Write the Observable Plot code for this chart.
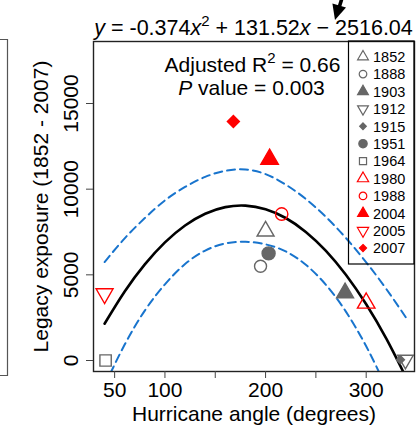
<!DOCTYPE html>
<html><head><meta charset="utf-8">
<script src="https://cdn.jsdelivr.net/npm/d3@7"></script>
<script src="https://cdn.jsdelivr.net/npm/@observablehq/plot@0.6"></script>
<style>
html,body{margin:0;padding:0;background:#fff;}
#wrap{position:relative;width:417px;height:438px;overflow:hidden;font-family:"Liberation Sans",Arial,sans-serif;}
#wrap svg{position:absolute;left:0;top:0;}
</style></head><body><div id="wrap"></div>
<script>
// ---- data ----
const years    = ["1852","1888","1903","1912","1915","1951","1964","1980","1988","2004","2005","2007"];
const angle    = [200, 195, 279, 339, 334, 203, 41, 300, 216, 204, 40, 168];
const exposure = [7550, 5500, 3950, 40, 50, 6250, 0, 3350, 8550, 11750, 3900, 13950];

// fitted curve y = -0.374x^2 + 131.52x - 2516.04 and its confidence band
const fitX   = [40, 60, 80, 100, 120, 140, 160, 180, 200, 220, 240, 260, 280, 300, 320, 340];
const fitY   = [2146, 4029, 5612, 6896, 7881, 8566, 8953, 9040, 8828, 8317, 7506, 6397, 4988, 3280, 1273, -1034];
const upperY = [5746, 7129, 8312, 9346, 10131, 10716, 11073, 11150, 10878, 10267, 9426, 8377, 7138, 5730, 4173, 2466];
const lowerY = [-1454, 929, 2912, 4446, 5631, 6416, 6833, 6930, 6778, 6367, 5586, 4417, 2838, 830, -1627, -4534];

const xTicks = [50, 100, 150, 200, 250, 300];
const xTickLabels = [50, 100, 200, 300];
const yTicks = [0, 5000, 10000, 15000];

const equationText = ["-0.374", "131.52", "2516.04"];
const r2Text = "0.66";
const pText = "0.003";

// ---- styles ----
const GRAY = "#666666", RED = "#ff0000", BLUE = "#1874cd";
const sty = {
  "1852": {symbol: "triangle", color: GRAY, fill: false, rot: 0,   r: 6.3, lr: 4.0},
  "1888": {symbol: "circle",   color: GRAY, fill: false, rot: 0,   r: 6.0, lr: 3.8},
  "1903": {symbol: "triangle", color: GRAY, fill: true,  rot: 0,   r: 6.3, lr: 4.0},
  "1912": {symbol: "triangle", color: GRAY, fill: false, rot: 180, r: 5.8, lr: 4.0},
  "1915": {symbol: "diamond2", color: GRAY, fill: true,  rot: 0,   r: 3.6, lr: 3.0},
  "1951": {symbol: "circle",   color: GRAY, fill: true,  rot: 0,   r: 6.5, lr: 4.2},
  "1964": {symbol: "square",   color: GRAY, fill: false, rot: 0,   r: 6.4, lr: 4.0},
  "1980": {symbol: "triangle", color: RED,  fill: false, rot: 0,   r: 6.5, lr: 4.2},
  "1988": {symbol: "circle",   color: RED,  fill: false, rot: 0,   r: 6.2, lr: 3.8},
  "2004": {symbol: "triangle", color: RED,  fill: true,  rot: 0,   r: 6.5, lr: 4.0},
  "2005": {symbol: "triangle", color: RED,  fill: false, rot: 180, r: 6.3, lr: 4.2},
  "2007": {symbol: "diamond2", color: RED,  fill: true,  rot: 0,   r: 5.4, lr: 3.2}
};

const pts = years.map((yr, i) => ({year: yr, angle: angle[i], exposure: exposure[i]}));
const fit = fitX.map((x, i) => ({x, fit: fitY[i], upper: upperY[i], lower: lowerY[i]}));

const W = 417, H = 438, ML = 93, MR = 3, MT = 41, MB = 67;
const FONT = "Liberation Sans, Arial, Helvetica, sans-serif";

const dotMarks = years.map(yr => {
  const s = sty[yr];
  return Plot.dot(pts.filter(d => d.year === yr), {
    x: "angle", y: "exposure", symbol: s.symbol, r: s.r, rotate: s.rot,
    stroke: s.color, fill: s.fill ? s.color : "none", strokeWidth: 1.4
  });
});

const chart = Plot.plot({
  width: W, height: H,
  marginLeft: ML, marginRight: MR, marginTop: MT, marginBottom: MB,
  style: {fontFamily: FONT, fontSize: "21px", color: "black", background: "white", overflow: "visible"},
  x: {domain: [29, 348]},
  y: {domain: [-642, 18619]},
  marks: [
    Plot.line(fit, {x: "x", y: "upper", curve: "natural", stroke: BLUE, strokeWidth: 2, strokeDasharray: "8,5", clip: true}),
    Plot.line(fit, {x: "x", y: "lower", curve: "natural", stroke: BLUE, strokeWidth: 2, strokeDasharray: "8,5", clip: true}),
    Plot.line(fit, {x: "x", y: "fit", curve: "natural", stroke: "black", strokeWidth: 2.6, clip: true}),
    ...dotMarks,
    Plot.frame({stroke: "#222", strokeWidth: 1.4}),
    Plot.axisX({ticks: xTicks, tickSize: 7, tickPadding: 4, stroke: "#444",
      tickFormat: d => xTickLabels.includes(d) ? String(d) : "",
      label: "Hurricane angle (degrees)", labelAnchor: "center", labelOffset: 49, labelArrow: "none", fontSize: 21}),
    Plot.axisY({ticks: yTicks, tickSize: 7, tickRotate: -90, tickPadding: 9, stroke: "#444",
      tickFormat: d => String(d),
      label: "Legacy exposure (1852 - 2007)", labelAnchor: "center", labelOffset: 60, labelArrow: "none", fontSize: 21})
  ]
});
document.getElementById("wrap").appendChild(chart);

// ---- annotation layer: equation, statistics, legend, arrow ----
const ov = d3.select("#wrap").append("svg")
  .attr("width", W).attr("height", H)
  .style("pointer-events", "none")
  .attr("font-family", FONT);

// neighbouring panel edge at far left
ov.append("path").attr("d", "M0,39.5H7.5V375.5H0").attr("fill", "none").attr("stroke", "#555").attr("stroke-width", 1.2);

const cx = ML + (W - ML - MR) / 2;
const eq = ov.append("text").attr("x", cx).attr("y", 35).attr("text-anchor", "middle").attr("font-size", 21.5);
eq.append("tspan").attr("font-style", "italic").text("y");
eq.append("tspan").text(" = " + equationText[0]);
eq.append("tspan").attr("font-style", "italic").text("x");
eq.append("tspan").attr("font-size", 15).attr("dy", -9).text("2");
eq.append("tspan").attr("dy", 9).text(" + " + equationText[1]);
eq.append("tspan").attr("font-style", "italic").text("x");
eq.append("tspan").text(" \u2212 " + equationText[2]);

const t1 = ov.append("text").attr("x", cx - 1).attr("y", 72).attr("text-anchor", "middle").attr("font-size", 21);
t1.append("tspan").text("Adjusted R");
t1.append("tspan").attr("font-size", 15).attr("dy", -9).text("2");
t1.append("tspan").attr("dy", 9).text(" = " + r2Text);

const t2 = ov.append("text").attr("x", cx - 2).attr("y", 95).attr("text-anchor", "middle").attr("font-size", 21);
t2.append("tspan").attr("font-style", "italic").text("P");
t2.append("tspan").text(" value = " + pText);

// arrow at the top
ov.append("line").attr("x1", 342).attr("y1", -2).attr("x2", 339.3).attr("y2", 7).attr("stroke", "black").attr("stroke-width", 3.6);
ov.append("path").attr("d", "M335,20L346,7.6L332.4,3.4Z").attr("fill", "black");

// legend
const LX = 348.5, LY = 41, LW = 65.5, LH = 223;
ov.append("rect").attr("x", LX).attr("y", LY).attr("width", LW).attr("height", LH)
  .attr("fill", "none").attr("stroke", "black").attr("stroke-width", 1.2);
const symMap = {triangle: d3.symbolTriangle, circle: d3.symbolCircle, square: d3.symbolSquare, diamond2: d3.symbolDiamond2 || d3.symbolSquare};
years.forEach((yr, i) => {
  const s = sty[yr];
  const yy = LY + 15.7 + i * 17.4;
  ov.append("path")
    .attr("d", d3.symbol(symMap[s.symbol], Math.PI * s.lr * s.lr)())
    .attr("transform", `translate(${LX + 14.5},${yy}) rotate(${s.rot + (s.symbol === "diamond2" && !d3.symbolDiamond2 ? 45 : 0)})`)
    .attr("fill", s.fill ? s.color : "none").attr("stroke", s.color).attr("stroke-width", 1.2);
  ov.append("text").attr("x", LX + 24.5).attr("y", yy + 5.2).attr("font-size", 14.5).text(yr);
});
</script></body></html>
